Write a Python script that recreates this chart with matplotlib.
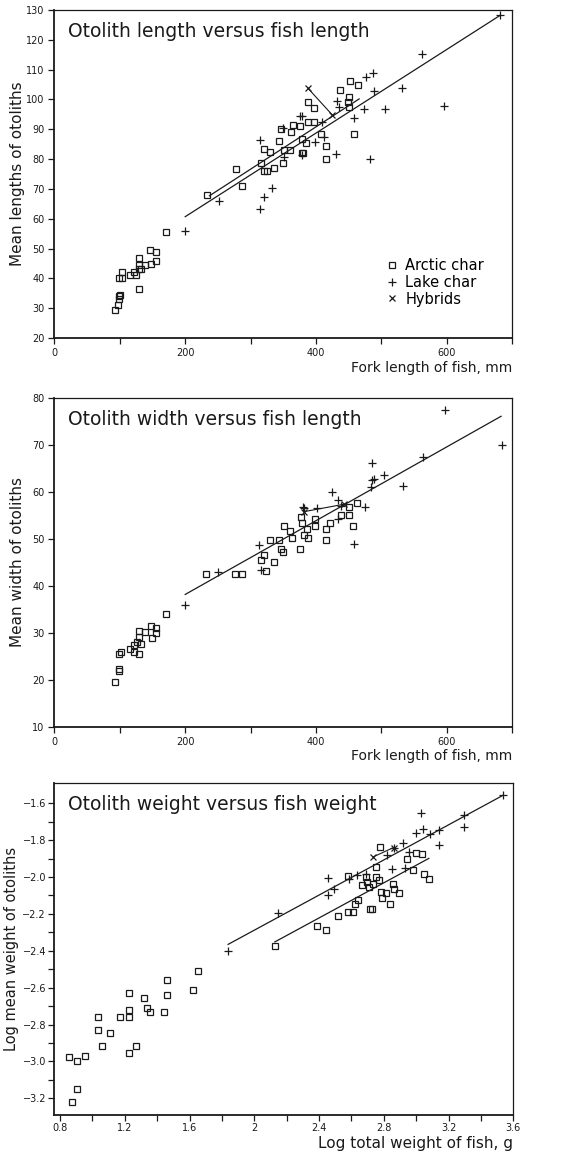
import numpy as np
import matplotlib
matplotlib.use('Agg')
import matplotlib.pyplot as plt

# ---- panel 1: otolith length vs fork length ----
p1_arctic_x = [92, 97, 98, 99, 100, 98, 103, 103, 115, 122, 125, 129, 129, 129, 132, 138, 129,
               146, 148, 156, 156, 170, 233, 278, 287, 316, 321, 321, 325, 330, 336, 344, 346,
               350, 351, 360, 362, 365, 375, 378, 378, 380, 384, 387, 387, 397, 397, 407, 416,
               416, 437, 449, 450, 450, 452, 458, 464]
p1_arctic_y = [29.4, 31, 33, 34, 34.3, 40, 40, 42.3, 41, 42, 41, 46.8, 44.5, 43, 43, 44.5, 36.5,
               49.6, 45, 48.7, 46, 55.4, 68, 76.6, 71, 78.6, 83.4, 76.1, 76.1, 82.5, 77, 86, 90,
               78.8, 82.9, 82.9, 89.2, 91.5, 91.1, 86.6, 82, 82, 85.5, 99, 92.6, 97, 92.6, 88.4, 84.4,
               80, 103.2, 99.3, 101, 97.6, 106.2, 88.4, 105]
p1_lake_x = [200, 252, 315, 321, 315, 333, 350, 351, 376, 378, 379, 399, 409, 412, 432, 435,
             431, 458, 476, 487, 474, 489, 483, 505, 532, 562, 595, 682]
p1_lake_y = [56, 65.8, 86.4, 67.4, 63.3, 70.4, 90.3, 80.8, 94.5, 94.5, 81.4, 85.6, 92.3, 87.5, 99.6, 97.6,
             81.6, 93.7, 107.7, 108.8, 96.8, 102.8, 79.9, 96.7, 104, 115.3, 97.8, 128.3]
p1_hybrid_x = [388, 425]
p1_hybrid_y = [103.7, 94.8]
# fitted lines: (slope, intercept, x from, x to)
p1_fit_lake = (0.1402, 32.66, 200, 682)
p1_fit_arctic = (0.1419, 34.07, 237, 466)

# ---- panel 2: otolith width vs fork length ----
p2_arctic_x = [93, 98, 98, 99, 102, 116, 121, 122, 126, 129, 130, 132, 129, 139, 147, 149, 156,
               156, 170, 232, 276, 287, 316, 321, 324, 330, 336, 344, 347, 350, 351, 360, 364,
               376, 377, 378, 381, 386, 387, 398, 399, 415, 415, 421, 438, 451, 451, 457, 463]
p2_arctic_y = [19.6, 22.4, 21.9, 25.6, 26, 26.6, 25.9, 27.4, 28.1, 25.6, 30.4, 27.6, 29.1, 30.2,
               31.5, 29, 31.1, 30, 34, 42.6, 42.6, 42.6, 45.6, 46.5, 43.1, 49.7, 45.2, 49.7, 47.8,
               47.2, 52.7, 51.8, 50.3, 47.8, 54.7, 53.3, 50.8, 52.2, 50.2, 54.3, 52.7, 52.2, 49.7,
               53.3, 55.2, 56.8, 55.2, 52.8, 57.7]
p2_lake_x = [200, 250, 313, 316, 380, 382, 401, 425, 433, 433, 438, 458, 475, 485, 486, 489,
             484, 504, 533, 563, 597, 684]
p2_lake_y = [35.9, 43, 48.8, 43.5, 56.8, 56.5, 56.7, 60.1, 58.2, 54.3, 57, 48.9, 56.8, 66.2,
             62.6, 62.8, 61.1, 63.7, 61.3, 67.4, 77.4, 69.9]
p2_hybrid_x = [381, 443]
p2_hybrid_y = [55.8, 57.4]
p2_fit = (0.0785, 22.5, 200, 683)

# ---- panel 3: log otolith weight vs log fish weight ----
p3_arctic_x = [0.855, 0.902, 0.952, 0.902, 0.872, 1.036, 1.036, 1.056, 1.107, 1.169, 1.224, 1.224,
               1.224, 1.224, 1.271, 1.316, 1.337, 1.357, 1.443, 1.460, 1.460, 1.619, 1.650,
               2.127, 2.388, 2.443, 2.519, 2.576, 2.607, 2.623, 2.643, 2.580, 2.668, 2.689, 2.695,
               2.709, 2.715, 2.729, 2.734, 2.750, 2.750, 2.770, 2.777, 2.781, 2.791, 2.811, 2.836,
               2.859, 2.863, 2.893, 2.941, 2.981, 2.996, 3.037, 3.047, 3.078]
p3_arctic_y = [-2.977, -2.999, -2.973, -3.149, -3.218, -2.760, -2.832, -2.914, -2.847, -2.760,
               -2.629, -2.720, -2.760, -2.954, -2.914, -2.656, -2.709, -2.732, -2.732, -2.557,
               -2.638, -2.615, -2.511,
               -2.374, -2.267, -2.285, -2.212, -2.189, -2.189, -2.147, -2.125, -1.993, -2.044,
               -1.999, -2.026, -2.053, -2.171, -2.171, -2.035, -1.999, -1.944, -2.017, -1.836,
               -2.080, -2.111, -2.089, -2.144, -2.035, -2.066, -2.089, -1.904, -1.962, -1.868,
               -1.877, -1.981, -2.013]
p3_lake_x = [1.838, 2.146, 2.457, 2.453, 2.494, 2.586, 2.637, 2.689, 2.822, 2.849, 2.863, 2.920,
             2.930, 2.955, 2.996, 3.027, 3.041, 3.084, 3.139, 3.143, 3.297, 3.297, 3.539]
p3_lake_y = [-2.401, -2.193, -2.004, -2.098, -2.066, -2.013, -1.990, -1.981, -1.881, -1.957,
             -1.841, -1.817, -1.953, -1.863, -1.759, -1.651, -1.741, -1.768, -1.745, -1.826,
             -1.663, -1.727, -1.555]
p3_hybrid_x = [2.736, 2.86]
p3_hybrid_y = [-1.89, -1.84]
p3_fit_lake = (0.476, -3.240, 1.838, 3.539)
p3_fit_arctic = (0.476, -3.364, 2.127, 3.078)

INK = '#1a1a1a'
plt.rcParams['font.family'] = ['DejaVu Sans']

fig = plt.figure(figsize=(5.61, 11.53), dpi=100)
ax1 = fig.add_axes([0.097, 0.7068, 0.816, 0.2845])
ax2 = fig.add_axes([0.097, 0.3695, 0.816, 0.2853])
ax3 = fig.add_axes([0.097, 0.0330, 0.818, 0.2879])


def fit_line(ax, fit):
    a, b, x0, x1 = fit
    xs = np.array([x0, x1])
    ax.plot(xs, a * xs + b, color=INK, lw=0.9)


def scatter(ax, ax_x, ax_y, lk_x, lk_y, hy_x, hy_y):
    ax.plot(ax_x, ax_y, 's', mfc='none', mec=INK, ms=5, mew=0.9, ls='none', label='Arctic char')
    ax.plot(lk_x, lk_y, '+', color=INK, ms=5.5, mew=0.9, ls='none', label='Lake char')
    ax.plot(hy_x, hy_y, color=INK, lw=0.8)
    ax.plot(hy_x, hy_y, 'x', color=INK, ms=4, mew=0.9, ls='none', label='Hybrids')


def style(ax, title, ylabel, xlabel, xl_size, yl_x=-0.064, yl_size=11, tick_pad=3):
    for s in ax.spines.values():
        s.set_linewidth(0.9)
        s.set_color(INK)
    ax.spines['left'].set_linewidth(1.3)
    ax.spines['bottom'].set_linewidth(1.3)
    ax.tick_params(direction='out', length=4, width=0.9, labelsize=7, colors=INK, pad=tick_pad)
    ax.text(0.03, 0.935, title, transform=ax.transAxes, fontsize=13.5, color=INK,
            va='center', ha='left')
    ax.set_ylabel(ylabel, fontsize=yl_size, color=INK)
    ax.yaxis.set_label_coords(yl_x, 0.5)
    ax.set_xlabel(xlabel, fontsize=xl_size, color=INK, loc='right', labelpad=2)


# panel 1
scatter(ax1, p1_arctic_x, p1_arctic_y, p1_lake_x, p1_lake_y, p1_hybrid_x, p1_hybrid_y)
fit_line(ax1, p1_fit_lake)
fit_line(ax1, p1_fit_arctic)
ax1.set_xlim(0, 700)
ax1.set_ylim(20, 130)
ax1.set_xticks(range(0, 701, 100))
ax1.set_xticklabels(['0', '', '200', '', '400', '', '600', ''])
ax1.set_yticks(range(20, 131, 10))
style(ax1, 'Otolith length versus fish length', 'Mean lengths of otoliths',
      'Fork length of fish, mm', 10)
ax1.legend(loc='lower left', bbox_to_anchor=(0.70, 0.065), frameon=False, fontsize=10.5,
           handlelength=0.9, handletextpad=0.5, labelspacing=0.12, borderpad=0.2)

# panel 2
scatter(ax2, p2_arctic_x, p2_arctic_y, p2_lake_x, p2_lake_y, p2_hybrid_x, p2_hybrid_y)
fit_line(ax2, p2_fit)
ax2.set_xlim(0, 700)
ax2.set_ylim(10, 80)
ax2.set_xticks(range(0, 701, 100))
ax2.set_xticklabels(['0', '', '200', '', '400', '', '600', ''])
ax2.set_yticks(range(10, 81, 10))
style(ax2, 'Otolith width versus fish length', 'Mean width of otoliths',
      'Fork length of fish, mm', 10)

# panel 3
scatter(ax3, p3_arctic_x, p3_arctic_y, p3_lake_x, p3_lake_y, p3_hybrid_x, p3_hybrid_y)
fit_line(ax3, p3_fit_lake)
fit_line(ax3, p3_fit_arctic)
ax3.set_xlim(0.765, 3.6)
ax3.set_ylim(-3.29, -1.49)
xt = np.round(np.arange(0.8, 3.61, 0.2), 1)
ax3.set_xticks(xt)
ax3.set_xticklabels([('2' if v == 2.0 else f'{v:.1f}') if i % 2 == 0 else '' for i, v in enumerate(xt)])
yt = np.round(np.arange(-3.2, -1.55, 0.1), 1)
ax3.set_yticks(yt)
ax3.set_yticklabels([f'{v:.1f}'.replace('-', '\u2212') if round(v * 10) % 2 == 0 else '' for v in yt])
style(ax3, 'Otolith weight versus fish weight', 'Log mean weight of otoliths',
      'Log total weight of fish, g', 11, yl_x=-0.078, yl_size=10.5, tick_pad=2)

fig.savefig('out.png', dpi=100, facecolor='white')
